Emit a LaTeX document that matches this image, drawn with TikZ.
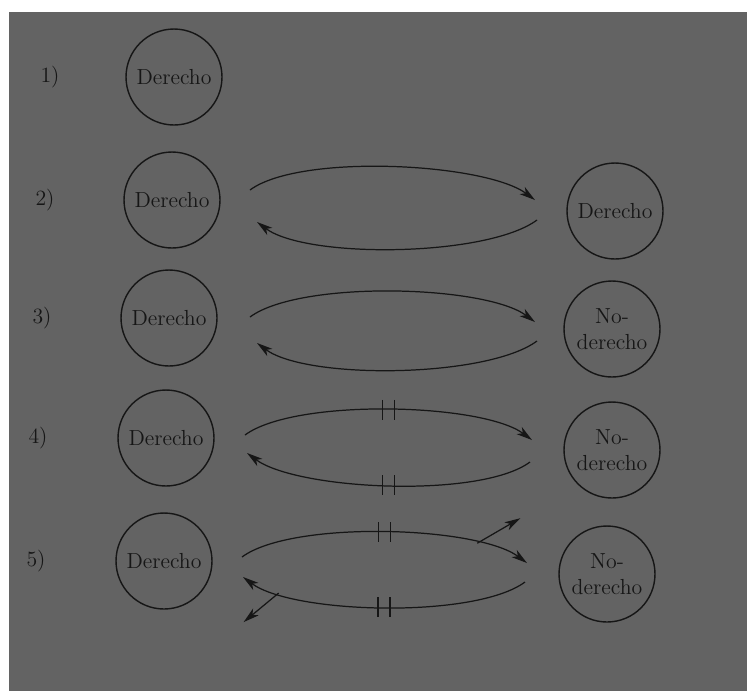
\documentclass[tikz,border=0pt]{standalone}
\usepackage{tikz}
\usetikzlibrary{calc,arrows.meta}
\definecolor{scan}{RGB}{99,99,99}
\definecolor{ink}{RGB}{22,22,22}

\begin{document}
\begin{tikzpicture}[x=0.02cm,y=-0.02cm,
  every node/.style={font=\fontsize{12.4}{14.5}\selectfont, text=ink},
  circ/.style={draw=ink, line width=0.8pt, circle, minimum size=1.92cm, inner sep=0pt, align=center},
  arr/.style={draw=ink, line width=0.7pt, -{Stealth[length=9pt,width=5pt,inset=2.5pt]}},
  tick/.style={draw=ink, line width=0.8pt}]
\fill[white] (0,0) rectangle (747,691);
\fill[scan] (9,12) rectangle (747,691);
\useasboundingbox (0,0) rectangle (747,691);

% left column
\foreach \n/\lx/\x/\y in {1/50/174/77, 2/45/172/200, 3/42/169/318, 4/38/166/438, 5/36/164/561} {
  \node (lab\n) at (\lx,\y) {\n)};
  \node[circ] (d\n) at (\x,\y) {Derecho};
}
% right column
\node[circ] (r2) at (615,211) {Derecho};
\foreach \n/\x/\y in {3/612/329, 4/612/450, 5/607/574} {
  \node[circ] (r\n) at (\x,\y) {No-\\derecho};
}

% ends of the arcs
\foreach \n/\ax/\ay/\bx/\by/\cx/\cy/\ex/\ey in {2/250/190/535/200/537/220/257/222,
    3/250/317/535/322/537/341/257/343, 4/245/435/532/440/530/462/247/453,
    5/242/557/527/563/525/582/243/577} {
  \coordinate (us\n) at (\ax,\ay);
  \coordinate (ue\n) at (\bx,\by);
  \coordinate (ls\n) at (\cx,\cy);
  \coordinate (le\n) at (\ex,\ey);
}

\foreach \n in {2,3,4} {
  \draw[arr] (us\n) .. controls +(50,-37) and +(-50,-37) .. (ue\n) coordinate[pos=.5] (m\n u);
  \draw[arr] (ls\n) .. controls +(-50,37) and +(50,37) .. (le\n) coordinate[pos=.5] (m\n l);
}
\draw[arr] (us5) .. controls +(50,-37) and +(-50,-37) .. (ue5)
  coordinate[pos=.5] (m5u) coordinate[pos=.78] (o5u);
\draw[arr] (ls5) .. controls +(-50,37) and +(50,37) .. (le5)
  coordinate[pos=.5] (m5l) coordinate[pos=.83] (o5l);

% cuts
\foreach \m in {m4u,m4l,m5u,m5l} {
  \foreach \s in {-6,6}
    \draw[tick] ($(\m)+(\s,-10)$) -- ($(\m)+(\s,10)$);
}

% leaks
\path (o5u) ++(43,-25) coordinate (t5u);
\path (o5l) ++(-35,29) coordinate (t5l);
\draw[arr] (o5u) -- (t5u);
\draw[arr] (o5l) -- (t5l);
\end{tikzpicture}
\end{document}
